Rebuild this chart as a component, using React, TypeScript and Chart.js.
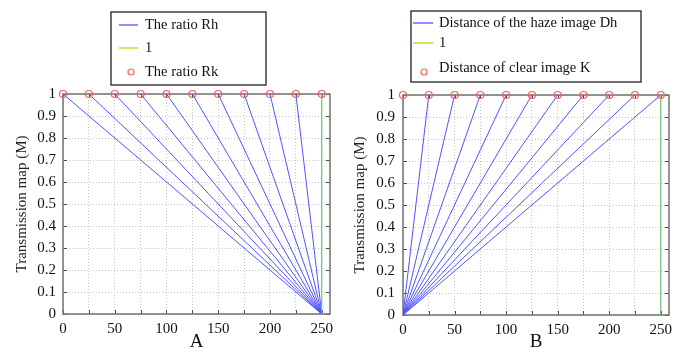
import React, { useEffect, useRef } from 'react';
import { Chart, registerables } from 'chart.js';
Chart.register(...registerables);

// ---- data ----
const rhStarts = [0, 25, 50, 75, 100, 125, 150, 175, 200, 225];
const rhEndX = 250;
const dhEnds = [25, 50, 75, 100, 125, 150, 175, 200, 225, 250];
const markerXs = [0, 25, 50, 75, 100, 125, 150, 175, 200, 225, 250];
const markerY = 1;
const oneLineX = 250;
const xTickValues = [0, 25, 50, 75, 100, 125, 150, 175, 200, 225, 250];
const xTickLabels = ['0', '', '50', '', '100', '', '150', '', '200', '', '250'];
const yTickValues = [0, 0.1, 0.2, 0.3, 0.4, 0.5, 0.6, 0.7, 0.8, 0.9, 1];
const yTickLabels = ['0', '0.1', '0.2', '0.3', '0.4', '0.5', '0.6', '0.7', '0.8', '0.9', '1'];
const xMax = 258;
const legendA = ['The ratio Rh', '1', 'The ratio Rk'];
const legendB = ['Distance of the haze image Dh', '1', 'Distance of clear image K'];

const BLUE = '#5252ff';
const GREEN_PLOT = '#6cc46c';
const GREEN_LEGEND = '#b9e23c';
const RED = '#ff5c5c';
const FONT = "'Liberation Serif', 'Times New Roman', serif";

type LegendCfg = {
  box: [number, number, number, number];
  rowsY: number[];
  sample: [number, number];
  textX: number;
  circle: [number, number];
  labels: string[];
};

function framePlugin() {
  return {
    id: 'frame',
    beforeDatasetsDraw(chart: any) {
      const { ctx, chartArea: a, scales } = chart;
      ctx.save();
      ctx.strokeStyle = '#4a4a4a';
      ctx.lineWidth = 1;
      const tl = 4;
      ctx.beginPath();
      xTickValues.forEach((v) => {
        const px = Math.round(scales.x.getPixelForValue(v)) + 0.5;
        ctx.moveTo(px, a.bottom);
        ctx.lineTo(px, a.bottom - tl);
        ctx.moveTo(px, a.top);
        ctx.lineTo(px, a.top + tl);
      });
      yTickValues.forEach((v) => {
        const py = Math.round(scales.y.getPixelForValue(v)) + 0.5;
        ctx.moveTo(a.left, py);
        ctx.lineTo(a.left + tl, py);
        ctx.moveTo(a.right, py);
        ctx.lineTo(a.right - tl, py);
      });
      ctx.stroke();
      ctx.strokeStyle = '#7a7a7a';
      ctx.lineWidth = 1.6;
      ctx.strokeRect(a.left, a.top, a.right - a.left, a.bottom - a.top);
      ctx.restore();
    },
  };
}

function legendPlugin(cfg: LegendCfg) {
  return {
    id: 'boxlegend',
    afterDraw(chart: any) {
      const ctx = chart.ctx;
      const [x1, y1, x2, y2] = cfg.box;
      ctx.save();
      ctx.fillStyle = '#ffffff';
      ctx.fillRect(x1, y1, x2 - x1, y2 - y1);
      ctx.strokeStyle = '#222';
      ctx.lineWidth = 1.3;
      ctx.strokeRect(x1, y1, x2 - x1, y2 - y1);
      // sample 1: blue line
      ctx.lineWidth = 1.3;
      ctx.strokeStyle = BLUE;
      ctx.beginPath();
      ctx.moveTo(cfg.sample[0], cfg.rowsY[0]);
      ctx.lineTo(cfg.sample[1], cfg.rowsY[0]);
      ctx.stroke();
      // sample 2: green line
      ctx.lineWidth = 1.6;
      ctx.strokeStyle = GREEN_LEGEND;
      ctx.beginPath();
      ctx.moveTo(cfg.sample[0], cfg.rowsY[1]);
      ctx.lineTo(cfg.sample[1], cfg.rowsY[1]);
      ctx.stroke();
      // sample 3: red circle
      ctx.lineWidth = 1.2;
      ctx.strokeStyle = RED;
      ctx.beginPath();
      ctx.arc(cfg.circle[0], cfg.circle[1], 3, 0, Math.PI * 2);
      ctx.stroke();
      ctx.fillStyle = '#111';
      ctx.font = `14.5px ${FONT}`;
      ctx.textBaseline = 'middle';
      ctx.textAlign = 'left';
      cfg.labels.forEach((t, i) => ctx.fillText(t, cfg.textX, cfg.rowsY[i]));
      ctx.restore();
    },
  };
}

function buildConfig(kind: 'A' | 'B', geom: any, legend: LegendCfg) {
  const markers = {
    data: markerXs.map((x) => ({ x, y: markerY })),
    showLine: false,
    pointRadius: 3.5,
    pointBorderColor: RED,
    pointBackgroundColor: 'rgba(0,0,0,0)',
    pointBorderWidth: 1.2,
    clip: false as any,
  };
  const green = {
    data: [
      { x: oneLineX, y: 0 },
      { x: oneLineX, y: 1 },
    ],
    showLine: true,
    borderColor: GREEN_PLOT,
    borderWidth: 1.2,
    pointRadius: 0,
  };
  const blues =
    kind === 'A'
      ? rhStarts.map((s) => ({
          data: [
            { x: s, y: 1 },
            { x: rhEndX, y: 0 },
          ],
          showLine: true,
          borderColor: BLUE,
          borderWidth: 1,
          pointRadius: 0,
        }))
      : dhEnds.map((e) => ({
          data: [
            { x: 0, y: 0 },
            { x: e, y: 1 },
          ],
          showLine: true,
          borderColor: BLUE,
          borderWidth: 1,
          pointRadius: 0,
        }));
  const tickFont = { family: FONT, size: 15 };
  return {
    type: 'line' as const,
    data: { datasets: [markers, green, ...blues] },
    options: {
      animation: false as const,
      responsive: false,
      layout: { padding: { top: geom.top, right: geom.right, left: 0, bottom: 0 } },
      plugins: { legend: { display: false }, tooltip: { enabled: false } },
      scales: {
        x: {
          type: 'linear' as const,
          min: 0,
          max: xMax,
          afterBuildTicks: (s: any) => {
            s.ticks = xTickValues.map((v) => ({ value: v }));
          },
          afterFit: (s: any) => {
            s.height = geom.xAxisH;
          },
          ticks: {
            callback: (_v: any, i: number) => xTickLabels[i],
            font: tickFont,
            color: '#111',
            padding: geom.xTickPad,
            maxRotation: 0,
            autoSkip: false,
          },
          grid: { color: '#c4c4c4', lineWidth: 1, drawTicks: false },
          border: { display: false, dash: [1, 2] },
          title: {
            display: true,
            text: kind,
            font: { family: FONT, size: 19, lineHeight: 1 },
            color: '#111',
            padding: { top: 0, bottom: geom.xTitlePad },
          },
        },
        y: {
          type: 'linear' as const,
          min: 0,
          max: 1,
          afterBuildTicks: (s: any) => {
            s.ticks = yTickValues.map((v) => ({ value: v }));
          },
          afterFit: (s: any) => {
            s.width = geom.yAxisW;
          },
          ticks: {
            callback: (_v: any, i: number) => yTickLabels[i],
            font: tickFont,
            color: '#111',
            padding: geom.yTickPad,
            autoSkip: false,
          },
          grid: { color: '#c4c4c4', lineWidth: 1, drawTicks: false },
          border: { display: false, dash: [1, 2] },
          title: {
            display: true,
            text: 'Transmission map (M)',
            font: { family: FONT, size: 15, lineHeight: 1.2 },
            color: '#2a2218',
            padding: { top: geom.yTitlePad, bottom: 0 },
          },
        },
      },
    },
    plugins: [framePlugin(), legendPlugin(legend)],
  };
}

function Panel(props: { kind: 'A' | 'B'; left: number; width: number; geom: any; legend: LegendCfg }) {
  const ref = useRef<HTMLCanvasElement | null>(null);
  useEffect(() => {
    if (!ref.current) return;
    const chart = new Chart(ref.current, buildConfig(props.kind, props.geom, props.legend) as any);
    return () => chart.destroy();
  }, []);
  return (
    <canvas
      ref={ref}
      width={props.width}
      height={352}
      style={{ position: 'absolute', left: props.left, top: 0, width: props.width, height: 352 }}
    />
  );
}

export default function App() {
  useEffect(() => {
    document.body.style.margin = '0';
    document.body.style.background = '#fff';
  }, []);
  const geomA = { top: 94, right: 15, xAxisH: 38, yAxisW: 63, xTickPad: 6, yTickPad: 7, yTitlePad: 13, xTitlePad: 0 };
  const geomB = { top: 95, right: 20, xAxisH: 37, yAxisW: 58, xTickPad: 6, yTickPad: 8, yTitlePad: 6, xTitlePad: 0 };
  const legA: LegendCfg = {
    box: [111, 12, 266, 85],
    rowsY: [25, 48, 72],
    sample: [119, 138],
    textX: 145,
    circle: [131, 72],
    labels: legendA,
  };
  const legB: LegendCfg = {
    box: [66, 11, 296, 82],
    rowsY: [23, 43, 68],
    sample: [68, 88],
    textX: 94,
    circle: [79, 72],
    labels: legendB,
  };
  return (
    <div style={{ position: 'fixed', left: 0, top: 0, width: 689, height: 352, background: '#fff' }}>
      <Panel kind="A" left={0} width={345} geom={geomA} legend={legA} />
      <Panel kind="B" left={345} width={344} geom={geomB} legend={legB} />
    </div>
  );
}
